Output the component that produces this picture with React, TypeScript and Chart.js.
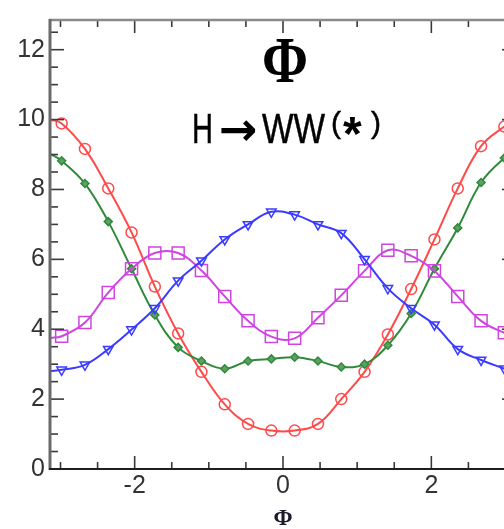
import React, { useEffect, useRef } from "react";
import { Chart, registerables } from "chart.js";
Chart.register(...registerables);

// bin centres in phi
const phiBins = [
  -2.9845, -2.6704, -2.3562, -2.042, -1.7279, -1.4137, -1.0996, -0.7854, -0.4712, -0.1571,
  0.1571, 0.4712, 0.7854, 1.0996, 1.4137, 1.7279, 2.042, 2.3562, 2.6704, 2.9845,
];
const redValues = [9.89, 9.16, 8.03, 6.77, 5.22, 3.88, 2.78, 1.85, 1.29, 1.1, 1.1, 1.29, 2.0, 2.78, 3.85, 5.15, 6.57, 8.03, 9.24, 9.8];
const greenValues = [8.82, 8.17, 7.08, 5.73, 4.41, 3.48, 3.09, 2.87, 3.09, 3.15, 3.2, 3.09, 2.92, 3.0, 3.54, 4.45, 5.73, 6.9, 8.2, 8.9];
const blueValues = [2.84, 2.98, 3.43, 3.99, 4.6, 5.39, 5.96, 6.57, 7.0, 7.36, 7.28, 7.0, 6.75, 6.0, 5.17, 4.6, 4.13, 3.43, 3.12, 2.87];
const magentaValues = [3.8, 4.19, 5.05, 5.73, 6.18, 6.18, 5.68, 4.94, 4.24, 3.79, 3.74, 4.33, 4.97, 5.67, 6.26, 6.1, 5.67, 4.94, 4.24, 3.9];
// fitted-curve values at phi = -pi and +pi
const redEdges = [10.0, 10.0];
const greenEdges = [9.02, 9.1];
const blueEdges = [2.8, 2.75];
const magentaEdges = [3.75, 3.8];

const xTickValues = [-2, 0, 2];
const yTickValues = [0, 2, 4, 6, 8, 10, 12];

const titleMain = "Φ";
const titleProc = ["H", "→", "WW", "(", "*", ")"];
const xAxisTitle = "Φ";

export default function App() {
  const ref = useRef<HTMLCanvasElement | null>(null);
  useEffect(() => {
    const canvas = ref.current;
    if (!canvas) return;
    const N = phiBins.length;
    const mk = (vals: number[], edges: number[]) => [
      { x: -Math.PI, y: edges[0] },
      ...phiBins.map((x, i) => ({ x, y: vals[i] })),
      { x: Math.PI, y: edges[1] },
    ];
    const rad = (r: number) => (c: any) => (c.dataIndex === 0 || c.dataIndex === N + 1 ? 0 : r);

    const framePlugin = {
      id: "frame",
      afterDraw(chart: any) {
        const { ctx, chartArea } = chart;
        const { left, right, top, bottom } = chartArea;
        const xs = chart.scales.x;
        const ys = chart.scales.y;
        ctx.save();
        const seg = (x1: number, y1: number, x2: number, y2: number) => {
          ctx.beginPath();
          ctx.moveTo(x1, y1);
          ctx.lineTo(x2, y2);
          ctx.stroke();
        };
        ctx.strokeStyle = "#3a3a3a";
        ctx.lineWidth = 1.6;
        for (let i = -6; i <= 6; i++) {
          const v = i * 0.5;
          const px = xs.getPixelForValue(v);
          const len = i % 4 === 0 ? 13 : 7;
          seg(px, bottom, px, bottom - len);
          seg(px, top, px, top + len);
        }
        for (let i = 1; i <= 25; i++) {
          const v = i * 0.5;
          const py = ys.getPixelForValue(v);
          const len = i % 4 === 0 ? 14 : 8;
          seg(left, py, left + len, py);
          seg(right, py, right - len, py);
        }
        // frame
        ctx.strokeStyle = "#8a8a8a";
        ctx.lineWidth = 2.5;
        seg(left - 1, top, right, top);
        seg(right, top, right, bottom);
        ctx.strokeStyle = "#6a6a6a";
        ctx.lineWidth = 3;
        seg(left, top - 1, left, bottom + 1);
        ctx.strokeStyle = "#1e1e1e";
        ctx.lineWidth = 2;
        seg(left - 1, bottom, right, bottom);

        // titles
        ctx.fillStyle = "#000";
        ctx.strokeStyle = "#000";
        ctx.textBaseline = "alphabetic";
        ctx.textAlign = "center";
        ctx.font = "bold 66px 'Liberation Serif'";
        ctx.fillText(titleMain, 285, 82, 46);

        ctx.textAlign = "left";
        ctx.lineWidth = 0.5;
        const put = (t: string, x: number, y: number, w: number) => {
          ctx.fillText(t, x, y, w);
          ctx.strokeText(t, x, y, w);
        };
        ctx.font = "43px 'Liberation Sans'";
        put(titleProc[0], 192, 143, 21);
        put(titleProc[2], 262, 143, 63);
        ctx.font = "bold 46px 'DejaVu Sans'";
        ctx.fillText(titleProc[1], 219, 145, 42);
        ctx.font = "30px 'Liberation Sans'";
        put(titleProc[3], 331, 133, 10);
        put(titleProc[5], 371, 133, 10);
        ctx.font = "bold 48px 'Liberation Sans'";
        ctx.fillText(titleProc[4], 343, 150, 26);
        ctx.restore();
      },
    };

    const chart = new Chart(canvas, {
      type: "line",
      data: {
        datasets: [
          {
            data: mk(blueValues, blueEdges),
            borderColor: "#3b3bff",
            backgroundColor: "rgba(0,0,0,0)",
            borderWidth: 2,
            pointStyle: "triangle",
            rotation: 180,
            pointRadius: rad(5.5),
            pointBorderWidth: 1.5,
            pointBorderColor: "#3b3bff",
            pointBackgroundColor: "rgba(0,0,0,0)",
            tension: 0.4,
          },
          {
            data: mk(magentaValues, magentaEdges),
            borderColor: "#cf45e0",
            backgroundColor: "rgba(0,0,0,0)",
            borderWidth: 2,
            pointStyle: "rect",
            pointRadius: rad(8.5),
            pointBorderWidth: 1.5,
            pointBorderColor: "#cf45e0",
            pointBackgroundColor: "rgba(0,0,0,0)",
            tension: 0.4,
          },
          {
            data: mk(greenValues, greenEdges),
            borderColor: "#2f8a3a",
            backgroundColor: "rgba(0,0,0,0)",
            borderWidth: 2,
            pointStyle: "rectRot",
            pointRadius: rad(4),
            pointBorderWidth: 1.5,
            pointBorderColor: "#2f8a3a",
            pointBackgroundColor: "#5f9f66",
            tension: 0.4,
          },
          {
            data: mk(redValues, redEdges),
            borderColor: "#ff4a4a",
            backgroundColor: "rgba(0,0,0,0)",
            borderWidth: 2,
            pointStyle: "circle",
            pointRadius: rad(5.5),
            pointBorderWidth: 1.5,
            pointBorderColor: "#ff4a4a",
            pointBackgroundColor: "rgba(0,0,0,0)",
            tension: 0.4,
          },
        ],
      },
      options: {
        animation: false,
        responsive: false,
        devicePixelRatio: 1,
        layout: { padding: { left: 0, right: 14, top: 12, bottom: 0 } },
        plugins: { legend: { display: false }, tooltip: { enabled: false } },
        scales: {
          x: {
            type: "linear",
            min: -Math.PI,
            max: Math.PI,
            grid: { display: false, drawTicks: false },
            border: { display: false },
            afterBuildTicks: (s: any) => {
              s.ticks = xTickValues.map((v) => ({ value: v }));
            },
            afterFit: (s: any) => {
              s.height = 60;
            },
            ticks: {
              padding: 2,
              color: "#333",
              autoSkip: false,
              maxRotation: 0,
              font: { family: "'Liberation Sans'", size: 25 },
              callback: (v: any) => String(v),
            },
            title: {
              display: true,
              text: xAxisTitle,
              color: "#1b1b2b",
              font: { family: "'Liberation Serif'", weight: "bold", size: 23 },
              padding: { top: 0, bottom: -4 },
            },
          },
          y: {
            type: "linear",
            min: 0,
            max: 12.85,
            grid: { display: false, drawTicks: false },
            border: { display: false },
            afterBuildTicks: (s: any) => {
              s.ticks = yTickValues.map((v) => ({ value: v }));
            },
            afterFit: (s: any) => {
              s.width = 50;
            },
            ticks: {
              padding: 5,
              color: "#333",
              autoSkip: false,
              font: { family: "'Liberation Sans'", size: 25 },
              callback: (v: any) => String(v),
            },
          },
        },
      },
      plugins: [framePlugin],
    } as any);
    return () => chart.destroy();
  }, []);

  return (
    <canvas
      ref={ref}
      width={530}
      height={529}
      style={{ position: "fixed", left: 0, top: 0, width: "530px", height: "529px" }}
    />
  );
}
